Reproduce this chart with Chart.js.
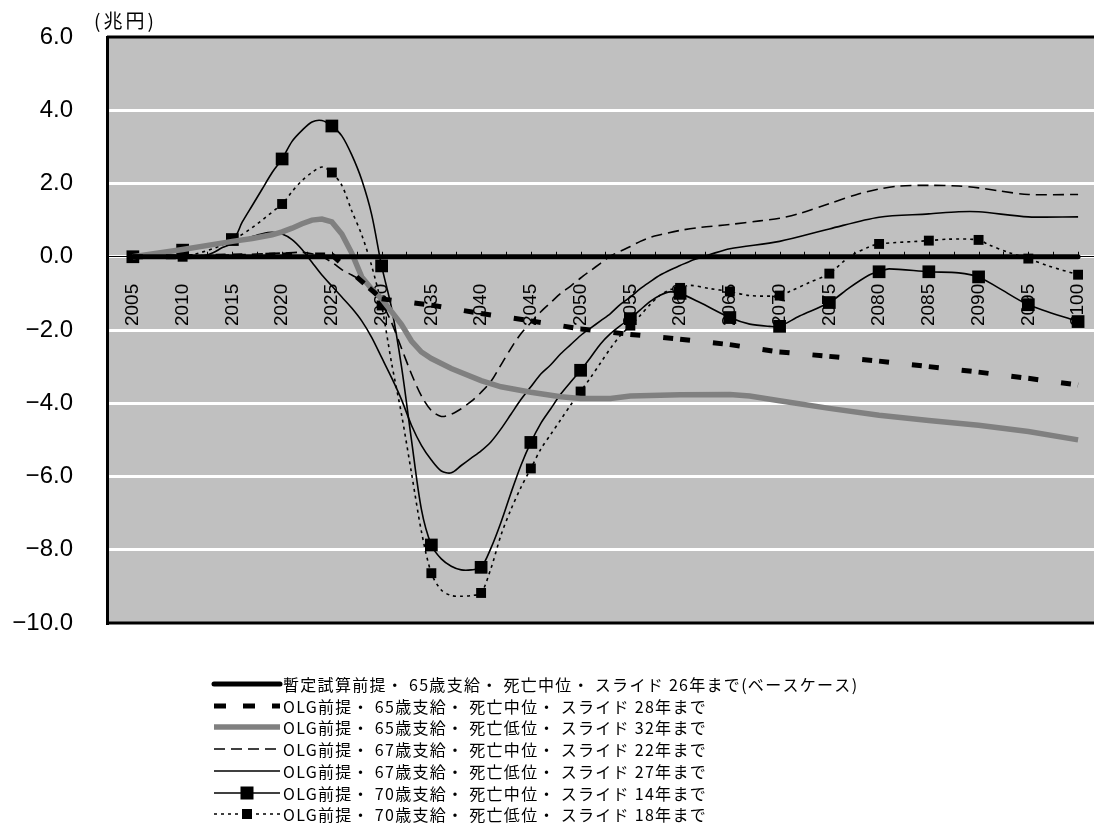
<!DOCTYPE html>
<html>
<head>
<meta charset="utf-8">
<script src="https://cdn.jsdelivr.net/npm/chart.js@4.4.1/dist/chart.umd.min.js"></script>
<style>
  html, body { margin: 0; padding: 0; background: #fff; }
  canvas { display: block; }
</style>
</head>
<body>
<canvas id="pensionChart" width="1094" height="827"></canvas>
<script>
// tick labels
const tickYears = [2005, 2010, 2015, 2020, 2025, 2030, 2035, 2040, 2045, 2050,
                   2055, 2060, 2065, 2070, 2075, 2080, 2085, 2090, 2095, 2100];
const yTicks = [-10, -8, -6, -4, -2, 0, 2, 4, 6];

const seriesNames = [
    '暫定試算前提・ 65歳支給・ 死亡中位・ スライド 26年まで(ベースケース)',
    'OLG前提・ 65歳支給・ 死亡中位・ スライド 28年まで',
    'OLG前提・ 65歳支給・ 死亡低位・ スライド 32年まで',
    'OLG前提・ 67歳支給・ 死亡中位・ スライド 22年まで',
    'OLG前提・ 67歳支給・ 死亡低位・ スライド 27年まで',
    'OLG前提・ 70歳支給・ 死亡中位・ スライド 14年まで',
    'OLG前提・ 70歳支給・ 死亡低位・ スライド 18年まで'
];

// base case (5-year points)
const baseYears = tickYears;
const baseVals = [0, 0, 0, 0, 0, 0, 0, 0, 0, 0, 0, 0, 0, 0, 0, 0, 0, 0, 0, 0];

// OLG 65 / mid / 28 (5-year points)
const olg65MidYears = tickYears;
const olg65MidVals = [0, 0, 0.02, 0.05, 0.05, -1.15, -1.32, -1.55, -1.75, -1.97,
                      -2.12, -2.25, -2.4, -2.6, -2.72, -2.85, -3.0, -3.15, -3.32, -3.5];

// OLG 65 / low / 32
const olg65LowYears = [2005, 2010, 2015, 2017, 2019, 2020, 2021, 2022, 2023, 2024, 2025, 2026, 2027,
                       2028, 2029, 2030, 2031, 2032, 2033, 2034, 2035, 2037, 2040, 2042, 2045, 2048,
                       2050, 2053, 2055, 2060, 2065, 2067, 2070, 2075, 2080, 2085, 2090, 2095, 2100];
const olg65LowVals = [0, 0.2, 0.42, 0.5, 0.6, 0.68, 0.78, 0.9, 1.0, 1.03, 0.95, 0.62, 0.1,
                      -0.55, -0.88, -1.15, -1.5, -1.85, -2.3, -2.6, -2.78, -3.05, -3.38, -3.55, -3.7, -3.82,
                      -3.87, -3.87, -3.8, -3.77, -3.76, -3.8, -3.93, -4.14, -4.33, -4.47, -4.6, -4.77, -5.0];

// OLG 67 / mid / 22
const olg67MidYears = [2005, 2010, 2015, 2020, 2022, 2023, 2024, 2025, 2026, 2027, 2028, 2029, 2030,
                       2031, 2032, 2033, 2034, 2035, 2036, 2037, 2038, 2039, 2040, 2041, 2042, 2043,
                       2044, 2045, 2046, 2047, 2048, 2049, 2050, 2051, 2052, 2053, 2054, 2055, 2056,
                       2057, 2058, 2060, 2062, 2065, 2068, 2070, 2072, 2075, 2078, 2080, 2082, 2085,
                       2088, 2090, 2092, 2095, 2100];
const olg67MidVals = [0, 0.02, 0.05, 0.1, 0.12, 0.08, 0, -0.15, -0.35, -0.5, -0.65, -0.85, -1.25,
                      -1.8, -2.5, -3.2, -3.8, -4.2, -4.36, -4.3, -4.15, -3.95, -3.7, -3.4, -2.95, -2.5,
                      -2.1, -1.8, -1.5, -1.25, -1.0, -0.8, -0.58, -0.38, -0.18, 0.02, 0.15, 0.28, 0.42,
                      0.53, 0.6, 0.72, 0.8, 0.88, 0.98, 1.05, 1.18, 1.45, 1.72, 1.85, 1.93, 1.95,
                      1.93, 1.88, 1.8, 1.7, 1.7];

// OLG 67 / low / 27
const olg67LowYears = [2005, 2010, 2012, 2013, 2014, 2015, 2016, 2017, 2018, 2019, 2020, 2021, 2022,
                       2023, 2024, 2025, 2026, 2027, 2028, 2029, 2030, 2031, 2032, 2033, 2034, 2035,
                       2036, 2037, 2038, 2039, 2040, 2041, 2042, 2043, 2044, 2045, 2046, 2047, 2048,
                       2049, 2050, 2051, 2052, 2053, 2054, 2055, 2056, 2057, 2058, 2059, 2060, 2061,
                       2062, 2063, 2065, 2070, 2075, 2080, 2085, 2088, 2090, 2095, 2100];
const olg67LowVals = [0, 0, 0.02, 0.1, 0.25, 0.35, 0.45, 0.55, 0.63, 0.67, 0.62, 0.47, 0.2,
                      -0.15, -0.5, -0.8, -1.1, -1.4, -1.75, -2.2, -2.75, -3.3, -3.9, -4.6, -5.15, -5.55,
                      -5.85, -5.9, -5.7, -5.5, -5.3, -5.05, -4.7, -4.3, -3.9, -3.55, -3.2, -2.95, -2.65,
                      -2.4, -2.15, -1.95, -1.75, -1.55, -1.3, -1.1, -0.87, -0.68, -0.5, -0.36, -0.24, -0.12,
                      -0.03, 0.06, 0.22, 0.42, 0.76, 1.08, 1.17, 1.23, 1.23, 1.09, 1.09];

// OLG 70 / mid / 14
const olg70MidYears = [2005, 2010, 2015, 2016, 2017, 2018, 2019, 2020, 2021, 2022, 2023, 2024, 2025,
                       2026, 2027, 2028, 2029, 2030, 2031, 2032, 2033, 2034, 2035, 2036, 2037, 2038,
                       2039, 2040, 2041, 2042, 2043, 2044, 2045, 2046, 2047, 2048, 2049, 2050, 2051,
                       2052, 2053, 2054, 2055, 2056, 2057, 2058, 2059, 2060, 2062, 2065, 2067, 2069,
                       2070, 2072, 2075, 2077, 2079, 2080, 2081, 2085, 2088, 2090, 2092, 2095, 2100];
const olg70MidVals = [0, 0.18, 0.47, 0.95, 1.4, 1.85, 2.3, 2.67, 3.15, 3.45, 3.68, 3.72, 3.57,
                      3.3, 2.78, 2.1, 1.15, -0.25, -1.4, -3.0, -5.0, -6.9, -7.87, -8.25, -8.45, -8.55,
                      -8.55, -8.48, -7.95, -7.25, -6.45, -5.7, -5.07, -4.55, -4.15, -3.75, -3.42, -3.1, -2.75,
                      -2.38, -2.1, -1.88, -1.69, -1.45, -1.22, -1.05, -0.96, -1.0, -1.25, -1.66, -1.84, -1.9,
                      -1.9, -1.62, -1.25, -0.85, -0.5, -0.41, -0.33, -0.41, -0.44, -0.55, -0.85, -1.31, -1.77];

// OLG 70 / low / 18
const olg70LowYears = [2005, 2010, 2015, 2020, 2021, 2022, 2023, 2024, 2025, 2026, 2027, 2028, 2029,
                       2030, 2031, 2032, 2033, 2034, 2035, 2036, 2037, 2038, 2039, 2040, 2041, 2042,
                       2043, 2044, 2045, 2046, 2047, 2048, 2049, 2050, 2051, 2052, 2053, 2054, 2055,
                       2056, 2057, 2058, 2059, 2060, 2061, 2063, 2065, 2067, 2070, 2071, 2073, 2075,
                       2077, 2079, 2080, 2085, 2087, 2090, 2091, 2093, 2095, 2097, 2100];
const olg70LowVals = [0, 0, 0.45, 1.44, 1.78, 2.08, 2.3, 2.45, 2.3, 1.95, 1.25, 0.6, -0.25,
                      -1.33, -2.9, -4.3, -5.9, -7.5, -8.64, -9.1, -9.25, -9.27, -9.25, -9.18, -8.5, -7.6,
                      -6.9, -6.3, -5.78, -5.25, -4.85, -4.45, -4.05, -3.68, -3.3, -2.9, -2.5, -2.15, -1.88,
                      -1.6, -1.3, -1.05, -0.9, -0.85, -0.78, -0.87, -0.95, -1.06, -1.06, -0.95, -0.7, -0.46,
                      0, 0.27, 0.35, 0.44, 0.48, 0.46, 0.33, 0.12, -0.05, -0.25, -0.49];

function toPoints(years, vals) {
    return years.map((x, i) => ({ x: x, y: vals[i] }));
}

// markers only on the 5-year points
function markerRadius(r) {
    return ctx => (ctx.raw && ctx.raw.x % 5 === 0 ? r : 0);
}

const datasets = [
    {
        label: seriesNames[0], data: toPoints(baseYears, baseVals),
        borderColor: '#000', borderWidth: 5, tension: 0, borderCapStyle: 'round',
        legendDash: []
    },
    {
        label: seriesNames[1], data: toPoints(olg65MidYears, olg65MidVals),
        borderColor: '#000', borderWidth: 5, tension: 0, borderCapStyle: 'butt',
        borderDash: [10, 23, 10, 7],
        // excel restarts the dash pattern at each point
        segment: { borderDashOffset: ctx => (ctx.p0DataIndex % 2) * 50 },
        legendDash: [12, 17]
    },
    {
        label: seriesNames[2], data: toPoints(olg65LowYears, olg65LowVals),
        borderColor: '#808080', borderWidth: 5.5, tension: 0,
        legendDash: []
    },
    {
        label: seriesNames[3], data: toPoints(olg67MidYears, olg67MidVals),
        borderColor: '#000', borderWidth: 1.6, tension: 0.3, borderDash: [11, 6],
        legendDash: [11, 6]
    },
    {
        label: seriesNames[4], data: toPoints(olg67LowYears, olg67LowVals),
        borderColor: '#000', borderWidth: 1.6, tension: 0.3,
        legendDash: []
    },
    {
        label: seriesNames[5], data: toPoints(olg70MidYears, olg70MidVals),
        borderColor: '#000', borderWidth: 1.6, tension: 0.3,
        pointStyle: 'rect', pointRadius: markerRadius(9), pointBackgroundColor: '#000',
        pointBorderWidth: 0, legendDash: [], legendMarker: 13
    },
    {
        label: seriesNames[6], data: toPoints(olg70LowYears, olg70LowVals),
        borderColor: '#000', borderWidth: 1.6, tension: 0.3, borderDash: [3, 4],
        pointStyle: 'rect', pointRadius: markerRadius(7), pointBackgroundColor: '#000',
        pointBorderWidth: 0, legendDash: [3, 4], legendMarker: 10
    }
];

function noPadding(s) {
    s.paddingTop = 0;
    s.paddingBottom = 0;
    s.paddingLeft = 0;
    s.paddingRight = 0;
}

const framePlugin = {
    id: 'frame',
    beforeDraw(chart) {
        const { ctx, chartArea: a } = chart;
        ctx.save();
        ctx.fillStyle = '#c0c0c0';
        ctx.fillRect(a.left, a.top, a.right - a.left, a.bottom - a.top);
        ctx.restore();
    },
    beforeDatasetsDraw(chart) {
        const { ctx, chartArea: a, scales } = chart;
        ctx.save();
        ctx.strokeStyle = '#000';
        ctx.lineWidth = 3;
        ctx.beginPath();
        ctx.moveTo(a.left, a.top); ctx.lineTo(a.right, a.top);
        ctx.moveTo(a.left, a.bottom); ctx.lineTo(a.right, a.bottom);
        ctx.stroke();
        // small tick marks above the zero axis
        const y0 = scales.y.getPixelForValue(0);
        ctx.lineWidth = 1;
        ctx.beginPath();
        for (let v = tickYears[0]; v <= tickYears[tickYears.length - 1]; v += 2.5) {
            const px = Math.round(scales.x.getPixelForValue(v)) + 0.5;
            ctx.moveTo(px, y0);
            ctx.lineTo(px, y0 - 5);
        }
        ctx.stroke();
        ctx.restore();
    },
    afterDraw(chart) {
        const { ctx } = chart;
        ctx.save();
        // unit label
        ctx.fillStyle = '#000';
        ctx.font = '19px "Noto Sans CJK JP"';
        ctx.textBaseline = 'middle';
        ctx.textAlign = 'left';
        ctx.letterSpacing = '3px';
        ctx.fillText('(兆円)', 94, 21);

        // legend
        const lineX0 = 214, lineX1 = 280, textX = 283, top = 684, gap = 21.7;
        ctx.font = '16px "Noto Sans CJK JP"';
        ctx.letterSpacing = '1.3px';
        chart.data.datasets.forEach((ds, i) => {
            const y = Math.round(top + i * gap);
            ctx.save();
            ctx.strokeStyle = ds.borderColor;
            ctx.lineWidth = ds.borderWidth;
            ctx.lineCap = i === 0 ? 'round' : 'butt';
            ctx.setLineDash(ds.legendDash || []);
            ctx.beginPath();
            ctx.moveTo(lineX0, y);
            ctx.lineTo(lineX1, y);
            ctx.stroke();
            if (ds.legendMarker) {
                const s = ds.legendMarker;
                ctx.fillStyle = '#000';
                ctx.fillRect((lineX0 + lineX1) / 2 - s / 2, y - s / 2, s, s);
            }
            ctx.restore();
            ctx.fillStyle = '#000';
            ctx.fillText(ds.label, textX, y + 1);
        });
        ctx.restore();
    }
};

const chart = new Chart(document.getElementById('pensionChart'), {
    type: 'line',
    data: { datasets: datasets },
    options: {
        responsive: false,
        animation: false,
        devicePixelRatio: 1,
        layout: { autoPadding: false, padding: { top: 37, bottom: 204, left: 0, right: 0 } },
        plugins: { legend: { display: false }, tooltip: { enabled: false } },
        elements: { point: { radius: 0 } },
        scales: {
            x: {
                type: 'linear',
                position: { y: 0 },
                min: 2002.4,
                max: 2101.6,
                afterBuildTicks: s => { s.ticks = tickYears.map(v => ({ value: v })); },
                afterFit: s => { s.height = 0; noPadding(s); },
                ticks: {
                    autoSkip: false,
                    minRotation: 90,
                    maxRotation: 90,
                    padding: 19,
                    color: '#000',
                    font: { family: 'Liberation Sans', size: 19 },
                    callback: v => String(v)
                },
                grid: { display: false },
                border: { display: true, color: '#000', width: 1 }
            },
            y: {
                min: -10,
                max: 6,
                afterFit: s => { s.width = 107; noPadding(s); },
                afterBuildTicks: s => { s.ticks = yTicks.map(v => ({ value: v })); },
                ticks: {
                    padding: 34,
                    color: '#000',
                    font: { family: 'Liberation Sans', size: 24 },
                    callback: v => (v < 0 ? '\u2212' : '') + Math.abs(v).toFixed(1)
                },
                grid: {
                    color: ctx => (ctx.tick && (ctx.tick.value === 6 || ctx.tick.value === -10)) ? 'rgba(0,0,0,0)' : '#fff',
                    lineWidth: 3,
                    drawTicks: false
                },
                border: { color: '#000', width: 3 }
            }
        }
    },
    plugins: [framePlugin]
});
</script>
</body>
</html>
